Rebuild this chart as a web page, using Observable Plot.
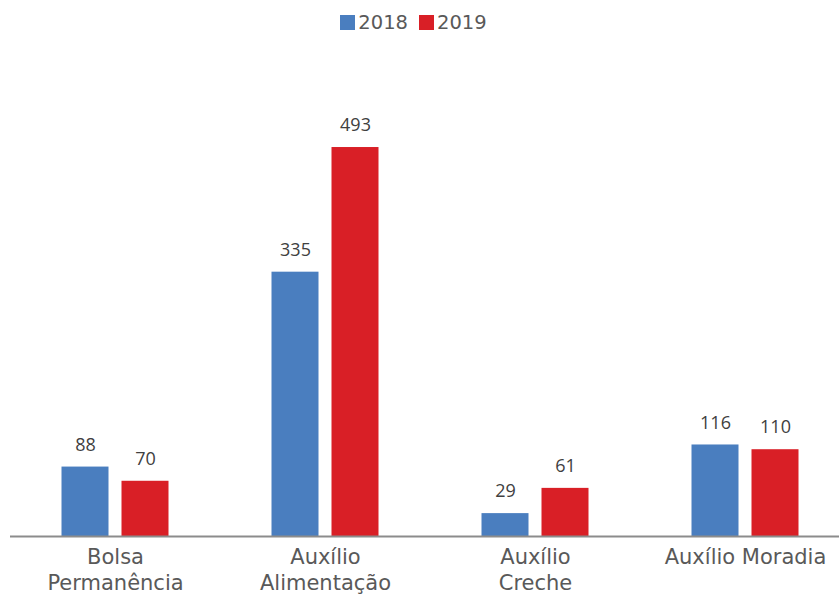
<!DOCTYPE html>
<html>
<head>
<meta charset="utf-8">
<script src="https://cdn.jsdelivr.net/npm/d3@7"></script>
<script src="https://cdn.jsdelivr.net/npm/@observablehq/plot@0.6"></script>
<style>
  html, body { margin: 0; padding: 0; background: #ffffff; }
  #wrap { width: 839px; height: 596px; overflow: hidden; }
  #legend { height: 44px; display: flex; justify-content: center; align-items: center; gap: 11px;
    font-family: "DejaVu Sans", sans-serif; font-size: 19.5px; color: #595959; padding-right: 12px; box-sizing: border-box; }
  #legend span.item { display: flex; align-items: center; gap: 3px; }
  #legend span.sw { width: 15px; height: 15px; display: inline-block; }
</style>
</head>
<body>
<div id="wrap">
  <div id="legend"></div>
  <div id="chart"></div>
</div>
<script>
const categories = ["Bolsa Permanência", "Auxílio Alimentação", "Auxílio Creche", "Auxílio Moradia"];
const categoryLabels = ["Bolsa\nPermanência", "Auxílio\nAlimentação", "Auxílio\nCreche", "Auxílio Moradia"];
const years = ["2018", "2019"];
const values2018 = [88, 335, 29, 116];
const values2019 = [70, 493, 61, 110];
const colors = ["#4a7ebf", "#d91f26"];

const data = [];
categories.forEach((c, i) => {
  data.push({category: c, year: years[0], value: values2018[i]});
  data.push({category: c, year: years[1], value: values2019[i]});
});
const labelData = categories.map((c, i) => ({category: c, label: categoryLabels[i]}));

const legend = document.getElementById("legend");
years.forEach((y, i) => {
  const item = document.createElement("span");
  item.className = "item";
  const sw = document.createElement("span");
  sw.className = "sw";
  sw.style.background = colors[i];
  item.appendChild(sw);
  item.appendChild(document.createTextNode(y));
  legend.appendChild(item);
});

const chart = Plot.plot({
  width: 839,
  height: 552,
  marginLeft: 9.5,
  marginRight: -10.5,
  marginTop: 18.6,
  marginBottom: 60,
  fx: {domain: categories, padding: 0, axis: null},
  x: {domain: years, paddingInner: 0.217, paddingOuter: 0.858, axis: null},
  y: {domain: [0, 600], axis: null},
  color: {domain: years, range: colors},
  marks: [
    Plot.barY(data, {fx: "category", x: "year", y: "value", fill: "year"}),
    Plot.ruleY([0], {stroke: "#8c8c8c", strokeWidth: 2}),
    Plot.text(data, {fx: "category", x: "year", y: "value", text: d => String(d.value),
      dy: -22, fill: "#404040", fontSize: 18, fontFamily: "'Open Sans', sans-serif"}),
    Plot.text(labelData, {fx: "category", text: "label", frameAnchor: "bottom", lineAnchor: "top",
      dy: 9, lineHeight: 1.24, fill: "#595959", fontSize: 21, fontFamily: "'DejaVu Sans', sans-serif"})
  ]
});
document.getElementById("chart").appendChild(chart);
</script>
</body>
</html>
